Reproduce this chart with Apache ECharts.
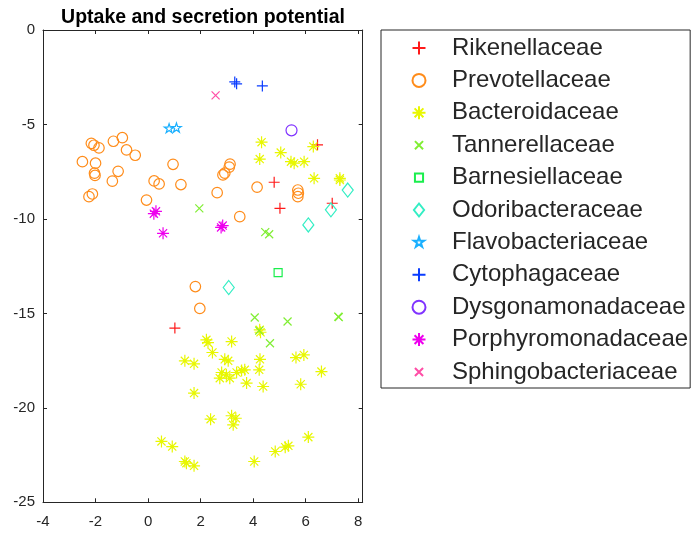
<!DOCTYPE html>
<html>
<head>
<meta charset="utf-8">
<script src="https://cdn.jsdelivr.net/npm/echarts@6/dist/echarts.min.js"></script>
<style>
  html, body { margin: 0; padding: 0; background: #ffffff; }
  #chart { width: 692px; height: 539px; }
</style>
</head>
<body>
<div id="chart"></div>
<script>
// Family names, in legend order
const families = [
  'Rikenellaceae', 'Prevotellaceae', 'Bacteroidaceae', 'Tannerellaceae',
  'Barnesiellaceae', 'Odoribacteraceae', 'Flavobacteriaceae', 'Cytophagaceae',
  'Dysgonamonadaceae', 'Porphyromonadaceae', 'Sphingobacteriaceae'
];

// Embedding coordinates [x, y] for each family
const rikenellaceae = [[6.45, -6.08], [4.80, -8.06], [5.02, -9.44], [7.01, -9.17], [1.02, -15.78]];

const prevotellaceae = [
  [-2.16, -6.00], [-2.06, -6.10], [-1.87, -6.24], [-1.32, -5.89], [-0.98, -5.70], [-0.82, -6.35],
  [-0.49, -6.63], [-2.50, -6.97], [-2.00, -7.05], [-2.04, -7.58], [-2.02, -7.70], [-1.14, -7.48],
  [-1.36, -8.00], [0.23, -7.99], [0.42, -8.15], [-2.25, -8.82], [-2.12, -8.68], [-0.06, -9.00],
  [0.95, -7.11], [1.25, -8.18], [2.63, -8.61], [2.85, -7.67], [2.92, -7.58], [3.09, -7.26],
  [3.12, -7.10], [4.15, -8.32], [3.49, -9.88], [5.70, -8.47], [5.72, -8.64], [5.70, -8.82],
  [1.80, -13.58], [1.97, -14.74]
];

const bacteroidaceae = [
  [4.32, -5.94], [4.25, -6.83], [5.05, -6.49], [5.44, -6.97], [5.56, -7.05], [5.94, -6.97],
  [6.29, -6.17], [6.32, -7.85], [7.30, -7.85], [7.30, -7.94],
  [4.25, -15.87], [4.28, -16.00], [2.22, -16.40], [2.28, -16.55], [3.18, -16.49],
  [2.45, -17.07], [1.40, -17.51], [1.75, -17.67], [2.92, -17.43], [3.05, -17.51], [4.26, -17.43],
  [5.63, -17.34], [5.93, -17.20], [6.60, -18.08],
  [2.80, -18.13], [2.73, -18.43], [2.98, -18.25], [3.11, -18.43], [3.37, -18.13], [3.56, -18.02],
  [3.68, -17.99], [4.23, -17.99], [3.75, -18.69], [4.38, -18.87], [5.81, -18.75], [1.75, -19.22],
  [2.38, -20.60], [3.18, -20.42], [3.34, -20.55], [3.24, -20.90],
  [0.51, -21.78], [0.92, -22.05], [1.40, -22.84], [1.46, -22.93], [1.75, -23.07], [4.04, -22.84],
  [4.84, -22.31], [5.22, -22.08], [5.34, -22.01], [6.10, -21.55]
];

const tannerellaceae = [
  [1.95, -9.44], [4.46, -10.70], [4.61, -10.81], [4.06, -15.22], [5.31, -15.43],
  [7.24, -15.17], [7.26, -15.20], [4.23, -15.91], [4.64, -16.58]
];

const barnesiellaceae = [[4.95, -12.84]];
const odoribacteraceae = [[3.07, -13.63], [6.10, -10.32], [6.96, -9.52], [7.60, -8.47]];
const flavobacteriaceae = [[0.80, -5.22], [1.08, -5.19]];
const cytophagaceae = [[3.30, -2.75], [3.37, -2.85], [4.35, -2.96]];
const dysgonamonadaceae = [[5.46, -5.31]];
const porphyromonadaceae = [[0.22, -9.72], [0.30, -9.60], [0.57, -10.76], [2.78, -10.45], [2.84, -10.35]];
const sphingobacteriaceae = [[2.57, -3.46]];

const familyData = [
  rikenellaceae, prevotellaceae, bacteroidaceae, tannerellaceae, barnesiellaceae,
  odoribacteraceae, flavobacteriaceae, cytophagaceae, dysgonamonadaceae,
  porphyromonadaceae, sphingobacteriaceae
];

// Marker shapes (outline-only, MATLAB style). The cross, square and star carry
// empty margins (bare moveTo points) so they stay small in the 13px legend slot;
// their symbolSize below is enlarged by the same factor.
const PLUS = 'path://M0,5L10,5M5,0L5,10';
const ASTERISK = 'path://M0,5L10,5M5,0L5,10M1.6,1.6L8.4,8.4M1.6,8.4L8.4,1.6';
const DIAMOND = 'path://M5.5,0L11,7L5.5,14L0,7Z';
const CROSS = 'path://M-3,-3M13,13M0,0L10,10M0,10L10,0';
const SQUARE = 'path://M-3,-3M13,13M0,0L10,0L10,10L0,10Z';
const STAR = 'path://M-2,-2M22,22M10,0L12.25,6.91L19.51,6.91L13.63,11.18L15.88,18.09L10,13.82L4.12,18.09L6.37,11.18L0.49,6.91L7.75,6.91Z';

const styles = [
  { color: '#ff1a1a', symbol: PLUS, size: 11 },
  { color: '#ff8c1a', symbol: 'circle', size: 10.5 },
  { color: '#e8f700', symbol: ASTERISK, size: 12 },
  { color: '#80ee33', symbol: CROSS, size: 12.8 },
  { color: '#1aee4d', symbol: SQUARE, size: 12.8 },
  { color: '#33eec4', symbol: DIAMOND, size: 14 },
  { color: '#1ab0ff', symbol: STAR, size: 12 },
  { color: '#0a3cff', symbol: PLUS, size: 11 },
  { color: '#8033ff', symbol: 'circle', size: 11 },
  { color: '#ee00ee', symbol: ASTERISK, size: 12 },
  { color: '#ff4da6', symbol: CROSS, size: 12.8 }
];

const FONT = '"Liberation Sans", Arial, Helvetica, sans-serif';
const AXIS_COLOR = '#262626';

const series = families.map((name, i) => ({
  name,
  type: 'scatter',
  xAxisIndex: 0,
  yAxisIndex: 0,
  data: familyData[i],
  symbol: styles[i].symbol,
  symbolSize: styles[i].size,
  symbolKeepAspect: true,
  itemStyle: {
    color: 'rgba(0,0,0,0)',
    borderColor: styles[i].color,
    borderWidth: 1.2,
    opacity: 1
  },
  emphasis: { disabled: true }
}));

function baseAxis(extra) {
  return Object.assign({
    type: 'value',
    splitLine: { show: false },
    axisLine: { show: true, onZero: false, lineStyle: { color: AXIS_COLOR, width: 1 } },
    axisTick: { show: true, inside: true, length: 4, lineStyle: { color: AXIS_COLOR, width: 1 } }
  }, extra);
}

const tickLabel = {
  fontSize: 15,
  color: AXIS_COLOR,
  fontFamily: FONT,
  formatter: v => (Number.isInteger(v) ? String(v) : '')
};

const chart = echarts.init(document.getElementById('chart'), null, { renderer: 'canvas' });

chart.setOption({
  animation: false,
  backgroundColor: '#ffffff',
  title: {
    text: 'Uptake and secretion potential',
    left: 198,
    top: 3,
    textAlign: 'center',
    textStyle: { fontSize: 19.5, fontWeight: 'bold', color: '#000000', fontFamily: FONT }
  },
  grid: { left: 43, top: 30, right: 329.3, bottom: 36.7, containLabel: false },
  xAxis: [
    baseAxis({ position: 'bottom', min: -4, max: 8.17, interval: 2,
      axisLabel: Object.assign({ margin: 12 }, tickLabel) }),
    baseAxis({ position: 'top', min: -4, max: 8.17, interval: 2, axisLabel: { show: false } })
  ],
  yAxis: [
    baseAxis({ position: 'left', min: -25, max: 0, interval: 5,
      axisLabel: Object.assign({ margin: 8 }, tickLabel) }),
    baseAxis({ position: 'right', min: -25, max: 0, interval: 5, axisLabel: { show: false } })
  ],
  legend: {
    orient: 'vertical',
    left: 381,
    top: 30,
    padding: [6, 2, 4, 30.5],
    itemWidth: 56,
    itemHeight: 13,
    itemGap: 8.4,
    selectedMode: false,
    borderColor: AXIS_COLOR,
    borderWidth: 1,
    backgroundColor: '#ffffff',
    textStyle: { fontSize: 24, lineHeight: 24, color: AXIS_COLOR, fontFamily: FONT },
    data: families
  },
  series
});
</script>
</body>
</html>
